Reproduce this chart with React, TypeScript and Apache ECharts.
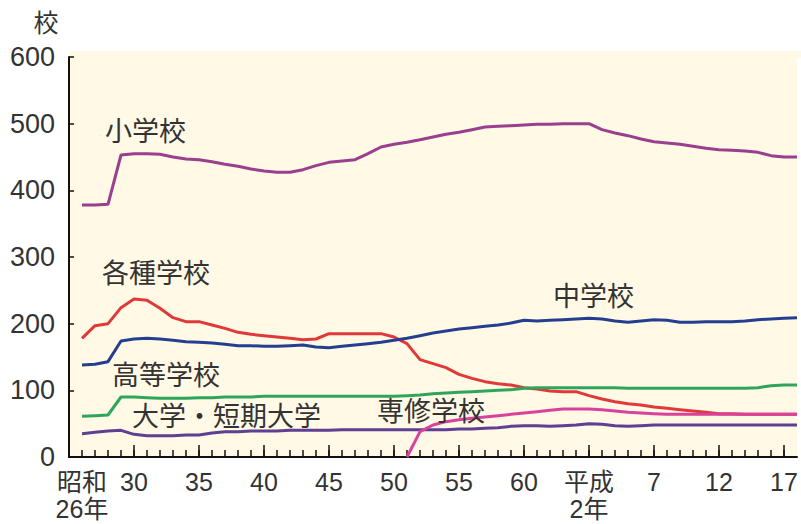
import React, { useEffect, useRef } from "react";
import * as echarts from "echarts";

// categories: years 1950 (axis start) .. 2006 (axis end)
const categories: string[] = [];
for (let y = 1950; y <= 2006; y++) categories.push(String(y));

// tick labels
const tickLabels: Record<string, string> = {
  "1951": "昭和\n26年",
  "1955": "30",
  "1960": "35",
  "1965": "40",
  "1970": "45",
  "1975": "50",
  "1980": "55",
  "1985": "60",
  "1990": "平成\n2年",
  "1995": "7",
  "2000": "12",
  "2005": "17",
};
const majorTickYears = ["1955", "1960", "1965", "1970", "1975", "1980", "1985", "1990", "1995", "2000", "2005"];

// values 1951..2006
const elementary = [
  378, 378, 379, 453, 455, 455, 454, 450, 447, 446,
  443, 439, 436, 432, 429, 427, 427, 431, 437, 442,
  444, 446, 455, 465, 469, 472, 476, 480, 484, 487,
  491, 495, 496, 497, 498, 499, 499, 500, 500, 500,
  491, 486, 482, 477, 473, 471, 469, 466, 463, 461,
  460, 459, 457, 452, 450, 450,
];
const miscellaneous = [
  178, 197, 200, 224, 237, 235, 223, 209, 203, 203,
  198, 193, 187, 184, 182, 180, 178, 176, 177, 185,
  185, 185, 185, 185, 180, 170, 146, 140, 134, 124,
  118, 113, 110, 108, 104, 102, 99, 98, 98, 92,
  87, 83, 80, 78, 75, 73, 71, 69, 67, 65,
  65, 64, 64, 64, 64, 64,
];
const juniorHigh = [
  138, 139, 143, 174, 177, 178, 177, 175, 173, 172,
  171, 169, 167, 167, 166, 166, 167, 168, 165, 164,
  166, 168, 170, 172, 175, 178, 182, 186, 189, 192,
  194, 196, 198, 201, 205, 204, 205, 206, 207, 208,
  207, 204, 202, 204, 206, 205, 202, 202, 203, 203,
  203, 204, 206, 207, 208, 209,
];
const highSchool = [
  61, 62, 63, 90, 90, 89, 88, 88, 88, 89,
  89, 90, 90, 90, 91, 91, 91, 91, 91, 91,
  91, 91, 91, 91, 91, 92, 93, 95, 96, 97,
  98, 99, 100, 101, 103, 104, 104, 104, 104, 104,
  104, 104, 103, 103, 103, 103, 103, 103, 103, 103,
  103, 103, 104, 107, 108, 108,
];
const university = [
  35, 37, 39, 40, 34, 32, 32, 32, 33, 33,
  36, 38, 38, 39, 39, 39, 40, 40, 40, 40,
  41, 41, 41, 41, 41, 41, 41, 41, 41, 42,
  42, 43, 44, 46, 47, 47, 46, 47, 48, 50,
  49, 47, 46, 47, 48, 48, 48, 48, 48, 48,
  48, 48, 48, 48, 48, 48,
];
// 専修学校 from 1976 .. 2006
const specialStart = "1976";
const specialTraining = [
  0, 38, 48, 53, 56, 58, 60, 62, 64, 66,
  68, 70, 72, 72, 72, 71, 69, 67, 66, 65,
  64, 64, 64, 64, 64, 64, 64, 64, 64, 64,
  64,
];

const FONT = "'Liberation Sans', 'Noto Sans CJK JP', sans-serif";
const TEXT = "#333333";

function align(values: number[], startYear: string): (number | null)[] {
  const start = categories.indexOf(startYear);
  return categories.map((_, i) => {
    const k = i - start;
    return k >= 0 && k < values.length ? values[k] : null;
  });
}

export default function App() {
  const ref = useRef<HTMLDivElement>(null);
  useEffect(() => {
    if (!ref.current) return;
    const chart = echarts.init(ref.current, undefined, { renderer: "svg" });
    const mk = (name: string, data: (number | null)[], color: string) => ({
      name,
      type: "line",
      data,
      showSymbol: false,
      symbol: "none",
      connectNulls: false,
      lineStyle: { color, width: 3 },
      itemStyle: { color },
    });
    const label = (text: string, x: number, y: number, size = 27) => ({
      type: "text",
      x,
      y,
      z: 10,
      style: {
        text,
        fontSize: size,
        fontFamily: FONT,
        fill: TEXT,
        align: "left",
        verticalAlign: "middle",
      },
    });
    chart.setOption({
      animation: false,
      backgroundColor: "#ffffff",
      textStyle: { fontFamily: FONT },
      grid: {
        left: 69,
        right: 4,
        top: 57,
        bottom: 67,
        show: true,
        backgroundColor: "#FFF9E6",
        borderWidth: 0,
      },
      xAxis: [
        {
          type: "category",
          data: categories,
          boundaryGap: false,
          axisLine: { show: true, lineStyle: { color: "#111", width: 2 } },
          axisTick: {
            show: true,
            inside: true,
            length: 7,
            interval: (i: number) => i > 0 && i < categories.length - 1,
            lineStyle: { color: "#111", width: 1.5 },
          },
          axisLabel: {
            interval: (_i: number, v: string) => v in tickLabels,
            formatter: (v: string) => tickLabels[v] ?? "",
            color: TEXT,
            fontSize: 25,
            lineHeight: 27,
            margin: 11,
            fontFamily: FONT,
            hideOverlap: false,
            showMinLabel: true,
          },
          splitLine: { show: false },
        },
        {
          type: "category",
          data: categories,
          boundaryGap: false,
          position: "bottom",
          axisLine: { show: false },
          axisTick: {
            show: true,
            inside: true,
            length: 12,
            interval: (_i: number, v: string) => majorTickYears.includes(v),
            lineStyle: { color: "#111", width: 1.5 },
          },
          axisLabel: { show: false },
          splitLine: { show: false },
        },
      ],
      yAxis: {
        type: "value",
        min: 0,
        max: 600,
        interval: 100,
        axisLine: { show: true, lineStyle: { color: "#111", width: 2 } },
        axisTick: { show: true, inside: true, length: 5, lineStyle: { color: "#111", width: 1.5 } },
        axisLabel: { color: TEXT, fontSize: 27, margin: 14, fontFamily: FONT },
        splitLine: { show: false },
      },
      series: [
        mk("小学校", align(elementary, "1951"), "#9A3E8E"),
        mk("各種学校", align(miscellaneous, "1951"), "#E0393A"),
        mk("中学校", align(juniorHigh, "1951"), "#243F8F"),
        mk("高等学校", align(highSchool, "1951"), "#2FA55C"),
        mk("大学・短期大学", align(university, "1951"), "#5E3F91"),
        mk("専修学校", align(specialTraining, specialStart), "#D8429C"),
      ],
      graphic: [
        {
          type: "rect",
          shape: { x: 70, y: 51, width: 731, height: 7 },
          style: { fill: "#FFF9E6" },
          z: 0,
        },
        {
          type: "text",
          x: 46,
          y: 23,
          style: {
            text: "校",
            fontSize: 25,
            fontFamily: FONT,
            fill: TEXT,
            align: "center",
            verticalAlign: "middle",
          },
        },
        label("小学校", 105, 132),
        label("各種学校", 102, 274),
        label("中学校", 553, 297),
        label("高等学校", 112, 376),
        label("大学・短期大学", 132, 417),
        label("専修学校", 377, 412),
      ],
    });
    return () => chart.dispose();
  }, []);
  return (
    <div
      ref={ref}
      style={{ position: "absolute", left: 0, top: 0, width: 801, height: 524 }}
    />
  );
}
